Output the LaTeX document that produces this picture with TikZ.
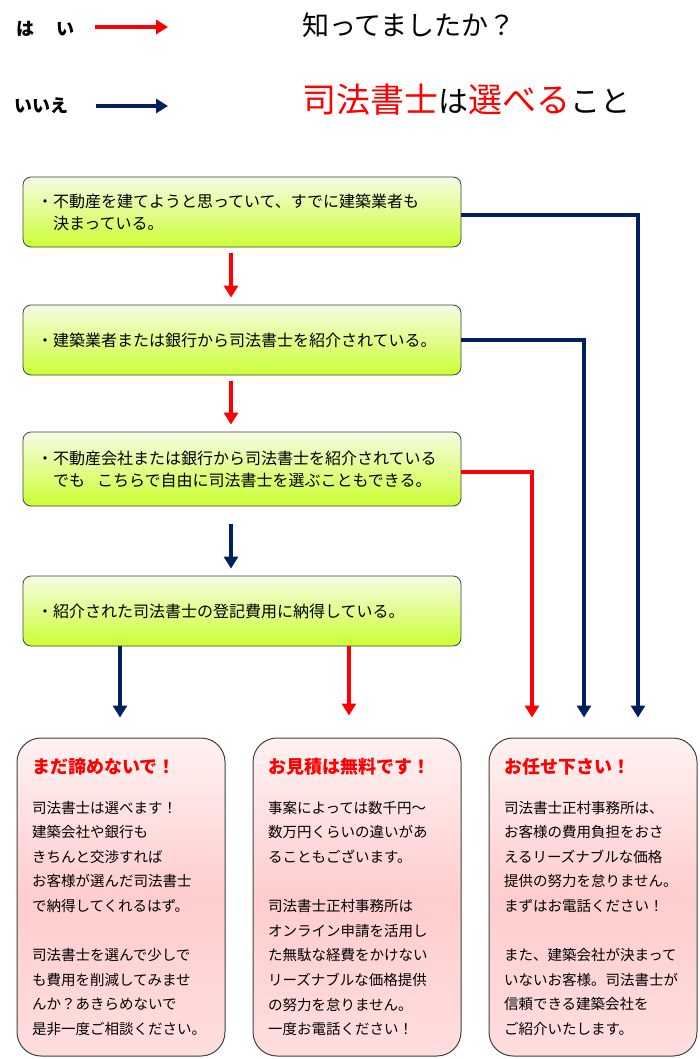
\documentclass[tikz,border=0pt]{standalone}
\usepackage{fontspec}
\setmainfont{Noto Sans CJK JP}
\usetikzlibrary{arrows.meta}

\definecolor{yesred}{RGB}{255,0,0}
\definecolor{nonavy}{RGB}{0,32,96}
\definecolor{greentop}{RGB}{246,252,228}
\definecolor{greenbot}{RGB}{204,255,51}
\definecolor{pinktop}{RGB}{255,242,242}
\definecolor{pinkmid}{RGB}{255,205,205}
\definecolor{pinkbot}{RGB}{255,222,222}

\newcommand{\midashi}[1]{{\color{yesred}\bfseries\fontsize{18}{18}\selectfont #1}}

\begin{document}
\begin{tikzpicture}[x=1pt, y=-1pt,
    question/.style={draw=black!75, line width=0.8pt, rounded corners=8pt,
      top color=greentop, bottom color=greenbot, minimum width=438pt,
      minimum height=70pt, text width=410pt, inner xsep=14pt, align=left,
      font=\fontsize{16}{22}\selectfont},
    answer/.style={draw=black!75, line width=1pt, rounded corners=24pt,
      top color=pinktop, bottom color=pinkbot, middle color=pinkmid,
      minimum width=208pt, minimum height=318pt, text width=178pt,
      inner xsep=15pt, align=left, font=\fontsize{14.5}{24.6}\selectfont},
    legend/.style={anchor=west, inner sep=0pt, font=\bfseries\fontsize{18}{18}\selectfont},
    yesarrow/.style={draw=yesred, line width=3.8pt, -{Triangle[length=12pt,width=14pt]}},
    noarrow/.style={draw=nonavy, line width=3.8pt, -{Triangle[length=12pt,width=14pt]}},
  ]
    \useasboundingbox (0,0) rectangle (700,1059);

    % 凡例
    \node[legend] (hai) at (16,29) {は\hspace{22pt}い};
    \node[legend] (iie) at (14,106) {いいえ};
    \coordinate (haistart) at (95,27);
    \coordinate (haiend) at (168,27);
    \coordinate (iiestart) at (96,106);
    \coordinate (iieend) at (168,106);
    \draw[yesarrow] (haistart) -- (haiend);
    \draw[noarrow] (iiestart) -- (iieend);

    % タイトル
    \node[anchor=west, inner sep=0pt, font=\fontsize{27}{27}\selectfont] (question) at (302,25) {知ってましたか？};
    \node[anchor=west, inner sep=0pt] (title) at (302,100) {{\color{yesred}\fontsize{34}{34}\selectfont 司法書士}{\fontsize{30}{30}\selectfont は}{\color{yesred}\fontsize{34}{34}\selectfont 選べる}{\fontsize{30}{30}\selectfont こと}};

    % 質問
    \node[question] (q1) at (242,212) {・不動産を建てようと思っていて、すでに建築業者も\\\hspace{1em}決まっている。};
    \node[question] (q2) at (242,340) {・建築業者または銀行から司法書士を紹介されている。};
    \node[question, minimum height=74pt] (q3) at (242,469) {・不動産会社または銀行から司法書士を紹介されている\\\hspace{1em}でも\hspace{0.75em}こちらで自由に司法書士を選ぶこともできる。};
    \node[question] (q4) at (242,611) {・紹介された司法書士の登記費用に納得している。};

    % 答え
    \node[answer] (a1) at (121,897) {\midashi{まだ諦めないで！}\\[15pt]
      司法書士は選べます！\\
      建築会社や銀行も\\
      きちんと交渉すれば\\
      お客様が選んだ司法書士\\
      で納得してくれるはず。\\[24.6pt]
      司法書士を選んで少しで\\
      も費用を削減してみませ\\
      んか？あきらめないで\\
      是非一度ご相談ください。};
    \node[answer] (a2) at (357,897) {\midashi{お見積は無料です！}\\[15pt]
      事案によっては数千円～\\
      数万円くらいの違いがあ\\
      ることもございます。\\[24.6pt]
      司法書士正村事務所は\\
      オンライン申請を活用し\\
      た無駄な経費をかけない\\
      リーズナブルな価格提供\\
      の努力を怠りません。\\
      一度お電話ください！};
    \node[answer] (a3) at (593,897) {\midashi{お任せ下さい！}\\[15pt]
      司法書士正村事務所は、\\
      お客様の費用負担をおさ\\
      えるリーズナブルな価格\\
      提供の努力を怠りません。\\
      まずはお電話ください！\\[24.6pt]
      また、建築会社が決まって\\
      いないお客様。司法書士が\\
      信頼できる建築会社を\\
      ご紹介いたします。};

    % 縦の矢印
    \draw[yesarrow, shorten <=6pt, shorten >=7pt] ([xshift=-11pt]q1.south) -- ([xshift=-11pt]q2.north);
    \draw[yesarrow, shorten <=6pt, shorten >=7pt] ([xshift=-11pt]q2.south) -- ([xshift=-11pt]q3.north);
    \draw[noarrow, shorten <=18pt, shorten >=7pt] ([xshift=-11pt]q3.south) -- ([xshift=-11pt]q4.north);
    \draw[noarrow, shorten >=20pt] ([xshift=-1pt]a1.north |- q4.south) -- ([xshift=-1pt]a1.north);
    \draw[yesarrow, shorten >=22pt] ([xshift=-8pt]a2.north |- q4.south) -- ([xshift=-8pt]a2.north);

    % 右側の矢印
    \draw[noarrow, shorten >=20pt] ([yshift=-3pt]q1.east) -| ([xshift=45pt]a3.north);
    \draw[noarrow, shorten >=20pt] (q2.east) -| ([xshift=-9pt]a3.north);
    \draw[yesarrow, shorten >=20pt] ([yshift=-3pt]q3.east) -| ([xshift=-61pt]a3.north);
\end{tikzpicture}
\end{document}
